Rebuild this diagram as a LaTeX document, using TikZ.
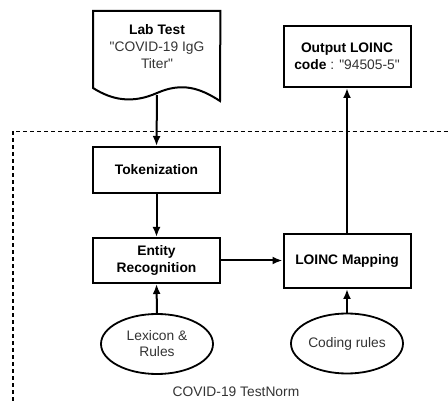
\documentclass[tikz,border=0pt]{standalone}
\usepackage{fontspec}
\setmainfont{Liberation Sans}
\usetikzlibrary{shapes.geometric,arrows.meta}
\definecolor{txtgray}{HTML}{333333}
\newcommand{\qq}{\textquotedbl}
\begin{document}
\begin{tikzpicture}[x=1pt,y=-1pt,
  box/.style={draw,line width=2pt,minimum width=127pt,align=center,font=\fontsize{13.8}{17}\selectfont\bfseries,inner sep=0pt},
  oval/.style={draw,ellipse,line width=1.8pt,minimum width=112pt,minimum height=60pt,align=center,inner sep=0pt,font=\fontsize{13.8}{16}\selectfont,text=txtgray},
  arr/.style={line width=2pt,-{Latex[length=10pt,width=8pt]}}]
\useasboundingbox (0,0) rectangle (448,401);
% dashed frame
\draw[line width=1.5pt,dash pattern=on 4pt off 3pt] (13,401) -- (13,131.5) -- (448,131.5);
% document shape
\node[minimum width=127pt,minimum height=90pt,inner sep=0pt,anchor=north west] (doc) at (93,11) {};
\draw[line width=2pt,line join=miter] (doc.north west) -- (doc.north east) -- (220,101)
  .. controls (200,88) and (182,82) .. (157,93)
  .. controls (132,104) and (112,100) .. (93,88) -- cycle;
\node[align=center,font=\fontsize{13.8}{17}\selectfont] (doctext) at (157,47)
  {\textbf{Lab Test}\\\textcolor{txtgray}{\qq COVID-19 IgG}\\\textcolor{txtgray}{Titer\qq}};
\coordinate (docbot) at (157,95);
% boxes
\node[box,minimum height=61pt] (out) at (347,56.5) {Output LOINC\\code\textcolor{txtgray}{\mdseries\ : \qq 94505-5\qq}};
\node[box,minimum height=46pt] (tok) at (156.5,170) {Tokenization};
\node[box,minimum height=45pt] (ent) at (156.5,260.5) {Entity\\Recognition};
\node[box,minimum height=54pt] (map) at (347,261) {LOINC Mapping};
% ellipses
\node[oval] (lex) at (157,344) {Lexicon \&\\Rules};
\node[oval] (cod) at (347,343.5) {Coding rules};
% label
\node[font=\fontsize{13.8}{16}\selectfont,text=txtgray,inner sep=1pt] (lbl) at (236,392) {COVID-19 TestNorm};
% arrows
\draw[arr] (docbot) -- (tok.north);
\draw[arr] (tok.south) -- (ent.north);
\draw[arr] (ent.east) -- (map.west |- ent.east);
\draw[arr] (map.north) -- (out.south);
\draw[arr] (lex.north) -- (ent.south);
\draw[arr] (cod.north) -- (map.south);
\end{tikzpicture}
\end{document}
